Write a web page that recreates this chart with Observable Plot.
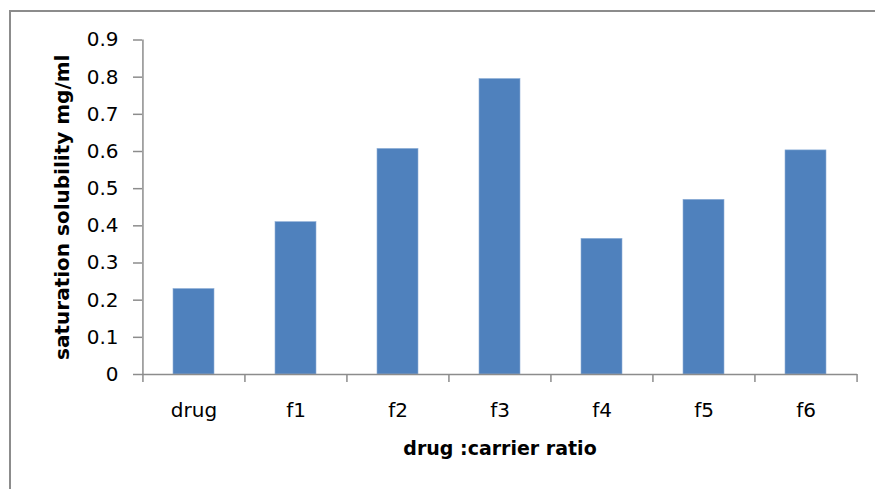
<!DOCTYPE html>
<html>
<head>
<meta charset="utf-8">
<script src="https://cdn.jsdelivr.net/npm/d3@7"></script>
<script src="https://cdn.jsdelivr.net/npm/@observablehq/plot@0.6"></script>
<style>
  html, body { margin: 0; padding: 0; background: #fff; overflow: hidden; }
  #wrap { position: relative; width: 875px; height: 489px; }
  #border {
    position: absolute; left: 9px; top: 10px; width: 900px; height: 500px;
    border-top: 2px solid #8c8c8c; border-left: 2px solid #8c8c8c;
    box-sizing: border-box; pointer-events: none;
  }
  #chart { position: absolute; left: 0; top: 0; }
</style>
</head>
<body>
<div id="wrap">
  <div id="border"></div>
  <div id="chart"></div>
</div>
<script>
// Formulations and their saturation solubility (mg/ml)
const categories = ["drug", "f1", "f2", "f3", "f4", "f5", "f6"];
const solubility = [0.23, 0.41, 0.607, 0.795, 0.365, 0.47, 0.603];
const yTicks = [0, 0.1, 0.2, 0.3, 0.4, 0.5, 0.6, 0.7, 0.8, 0.9];
const xTitle = "drug :carrier ratio";
const yTitle = "saturation solubility mg/ml";

const data = categories.map((c, i) => ({category: c, value: solubility[i]}));

const W = 875, H = 489;
const mL = 142, mR = 18, mT = 39.5, mB = 115;
const step = (W - mL - mR) / categories.length;
const axisColor = "#8c8c8c";
const font = "'DejaVu Sans', sans-serif";

const chart = Plot.plot({
  width: W,
  height: H,
  marginLeft: mL,
  marginRight: mR,
  marginTop: mT,
  marginBottom: mB,
  style: {fontFamily: font, fontSize: "20px", color: "#000", background: "transparent"},
  x: {domain: categories, type: "band", paddingInner: 0.6, paddingOuter: 0.3, label: null, axis: null},
  y: {domain: [0, 0.9], label: null, axis: null},
  marks: [
    Plot.barY(data, {x: "category", y: "value", fill: "#4F81BD", stroke: "#8fb0d8", strokeWidth: 0.6}),
    // value axis line and ticks
    Plot.ruleX([categories[0]], {dx: -step / 2, stroke: axisColor, strokeWidth: 1.5}),
    Plot.axisY({
      ticks: yTicks, tickSize: 9, tickPadding: 15, stroke: axisColor, strokeWidth: 1.5,
      fontSize: 20, fill: "#000", label: null, tickFormat: d3.format("")
    }),
    // category axis line, boundary ticks and labels
    Plot.ruleY([0], {stroke: axisColor, strokeWidth: 1.5}),
    Plot.axisX({
      ticks: categories, tickSize: 8, dx: -step / 2, stroke: axisColor, strokeWidth: 1.5,
      text: null, label: null
    }),
    Plot.axisX({
      ticks: [categories[categories.length - 1]], tickSize: 8, dx: step / 2, stroke: axisColor,
      strokeWidth: 1.5, text: null, label: null
    }),
    Plot.axisX({
      ticks: categories, tickSize: 0, tickPadding: 28, fontSize: 20, fill: "#000", label: null
    }),
    // axis titles
    Plot.text([yTitle], {
      frameAnchor: "left", dx: -80, rotate: -90, textAnchor: "middle", fontWeight: "bold",
      fontSize: 20, fill: "#000", text: d => d
    }),
    Plot.text([xTitle], {
      frameAnchor: "bottom", dy: 80, fontWeight: "bold", fontSize: 19, fill: "#000", text: d => d
    })
  ]
});

document.getElementById("chart").appendChild(chart);
</script>
</body>
</html>
